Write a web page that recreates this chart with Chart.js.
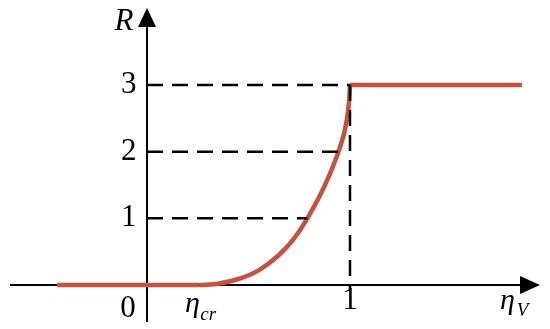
<!DOCTYPE html>
<html>
<head>
<meta charset="utf-8">
<script src="https://cdn.jsdelivr.net/npm/chart.js@4/dist/chart.umd.min.js"></script>
<style>
html,body{margin:0;padding:0;background:#fff;}
#wrap{width:550px;height:329px;}
</style>
</head>
<body>
<div id="wrap"><canvas id="c" width="550" height="329"></canvas></div>
<script>
// ---- data ----
const leftFlatX = [-0.443, 0.26];
const leftFlatR = [0, 0];
const curveX = [0.26, 0.35, 0.45, 0.55, 0.65, 0.72, 0.79, 0.85, 0.90, 0.95, 0.975, 0.99, 0.997, 1.0];
const curveR = [0, 0.02, 0.09, 0.22, 0.45, 0.68, 1.0, 1.33, 1.66, 2.06, 2.33, 2.6, 2.82, 3.0];
const rightFlatX = [1.0, 1.847];
const rightFlatR = [3, 3];
const guideLevels = [1, 2, 3];
const guideEndX = [0.79, 0.95, 1.0];
const yTickLabels = ["1", "2", "3"];
const xTickLabels = ["0", "1"];

const RED = '#C9503F';
const toPts = (xs, ys) => xs.map((x, i) => ({x: x, y: ys[i]}));

const datasets = [];
// dashed guides
guideLevels.forEach((lv, i) => {
  datasets.push({data: toPts([0, guideEndX[i]], [lv, lv]), borderColor: '#000', borderWidth: 2.5,
    borderDash: [16, 9], pointRadius: 0, showLine: true, tension: 0});
});
datasets.push({data: toPts([1, 1], [3, -0.06]), borderColor: '#000', borderWidth: 2.5,
  borderDash: [16, 9], pointRadius: 0, showLine: true, tension: 0});
// red response
datasets.push({data: toPts(leftFlatX, leftFlatR), borderColor: RED, borderWidth: 4.5, pointRadius: 0, showLine: true, tension: 0, borderCapStyle: 'butt'});
datasets.push({data: toPts(curveX, curveR), borderColor: RED, borderWidth: 4.5, pointRadius: 0, showLine: true, cubicInterpolationMode: 'monotone', borderCapStyle: 'butt'});
datasets.push({data: toPts(rightFlatX, rightFlatR), borderColor: RED, borderWidth: 4.5, pointRadius: 0, showLine: true, tension: 0, borderCapStyle: 'butt', borderJoinStyle: 'miter'});

const axesPlugin = {
  id: 'axes',
  beforeDatasetsDraw(chart) {
    const {ctx, chartArea: a, scales: {x, y}} = chart;
    const x0 = x.getPixelForValue(0), y0 = y.getPixelForValue(0);
    ctx.save();
    ctx.strokeStyle = '#000'; ctx.fillStyle = '#000'; ctx.lineWidth = 2;
    // x axis
    ctx.beginPath(); ctx.moveTo(a.left, y0); ctx.lineTo(a.right - 12, y0); ctx.stroke();
    ctx.beginPath(); ctx.moveTo(a.right, y0); ctx.lineTo(a.right - 20, y0 - 9); ctx.lineTo(a.right - 20, y0 + 9); ctx.closePath(); ctx.fill();
    // y axis
    ctx.beginPath(); ctx.moveTo(x0, a.bottom - 3); ctx.lineTo(x0, a.top + 12); ctx.stroke();
    ctx.beginPath(); ctx.moveTo(x0, a.top); ctx.lineTo(x0 - 9, a.top + 19); ctx.lineTo(x0 + 9, a.top + 19); ctx.closePath(); ctx.fill();
    ctx.restore();
  },
  afterDatasetsDraw(chart) {
    const {ctx, scales: {x, y}} = chart;
    const px = v => x.getPixelForValue(v), py = v => y.getPixelForValue(v);
    ctx.save();
    ctx.fillStyle = '#000';
    ctx.font = '31px "Liberation Serif"';
    ctx.textAlign = 'right'; ctx.textBaseline = 'middle';
    guideLevels.forEach((lv, i) => ctx.fillText(yTickLabels[i], px(-0.052), py(lv)));
    ctx.textAlign = 'center';
    ctx.fillText(xTickLabels[0], px(-0.094), py(-0.36));
    ctx.fillText(xTickLabels[1], px(1.0), py(-0.24));
    ctx.font = 'italic 31px "Liberation Serif"';
    ctx.fillText('R', px(-0.113), py(3.94));
    ctx.textAlign = 'left'; ctx.textBaseline = 'alphabetic';
    ctx.font = 'italic 30px "Liberation Serif"';
    ctx.fillText('η', px(0.187), py(-0.40));
    ctx.fillText('η', px(1.739), py(-0.36));
    ctx.font = 'italic 19px "Liberation Serif"';
    ctx.fillText('cr', px(0.262), py(-0.53));
    ctx.fillText('V', px(1.822), py(-0.47));
    ctx.restore();
  }
};

new Chart(document.getElementById('c'), {
  type: 'scatter',
  data: {datasets},
  options: {
    responsive: false,
    animation: false,
    devicePixelRatio: 1,
    layout: {padding: {left: 10, right: 10, top: 8, bottom: 4}},
    plugins: {legend: {display: false}, tooltip: {enabled: false}},
    scales: {
      x: {type: 'linear', min: -0.675, max: 1.936, display: false},
      y: {type: 'linear', min: -0.6, max: 4.155, display: false}
    }
  },
  plugins: [axesPlugin]
});
</script>
</body>
</html>
